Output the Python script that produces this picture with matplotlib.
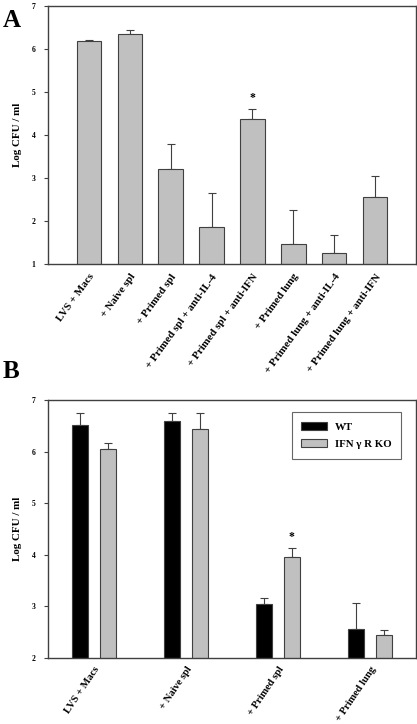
import numpy as np
import matplotlib
matplotlib.use("Agg")
import matplotlib.pyplot as plt

plt.rcParams["font.family"] = ["Liberation Serif", "DejaVu Serif"]
plt.rcParams["font.weight"] = "bold"

# panel A
cats_a = ["LVS + Macs", "+ Naive spl", "+ Primed spl", "+ Primed spl + anti-IL-4",
          "+ Primed spl + anti-IFN", "+ Primed lung", "+ Primed lung + anti-IL-4",
          "+ Primed lung + anti-IFN"]
vals_a = [6.19, 6.36, 3.21, 1.86, 4.38, 1.46, 1.25, 2.56]
errs_a = [0.03, 0.08, 0.59, 0.79, 0.22, 0.79, 0.42, 0.50]

# panel B
cats_b = ["LVS + Macs", "+ Naive spl", "+ Primed spl", "+ Primed lung"]
wt_b = [6.52, 6.59, 3.05, 2.56]
wt_err = [0.23, 0.16, 0.12, 0.50]
ko_b = [6.06, 6.44, 3.96, 2.44]
ko_err = [0.12, 0.31, 0.17, 0.10]

GRAY = "#c0c0c0"
EDGE = "#404040"

fig = plt.figure(figsize=(4.17, 7.24), dpi=100)

def style(ax, ylim, yticks):
    ax.set_ylim(*ylim)
    ax.set_yticks(yticks)
    ax.set_yticklabels([str(t) for t in yticks], fontsize=5.5, fontweight="bold")
    for s in ax.spines.values():
        s.set_color(EDGE); s.set_linewidth(1.0)
    ax.tick_params(axis="y", direction="out", length=3, width=0.8, color=EDGE, pad=6)
    ax.tick_params(axis="x", length=0, pad=6)
    ax.set_ylabel("Log CFU / ml", fontsize=7.9, fontweight="bold", labelpad=7)

# ---- A
axA = fig.add_axes([0.1151, 0.6354, 0.8825, 0.3557])
xa = np.arange(len(cats_a))
axA.bar(xa, vals_a, width=0.6, bottom=0, color=GRAY, edgecolor=EDGE, linewidth=0.8, zorder=2)
axA.errorbar(xa, vals_a, yerr=[np.zeros(len(errs_a)), errs_a], fmt="none",
             ecolor=EDGE, elinewidth=0.8, capsize=2.9, capthick=0.8, zorder=1)
axA.set_xlim(-1, 8)
style(axA, (1, 7), [1, 2, 3, 4, 5, 6, 7])
axA.set_xticks(xa)
axA.set_xticklabels(cats_a, rotation=54, ha="right", rotation_mode="anchor",
                    fontsize=7.8, fontweight="bold")
axA.text(4, vals_a[4] + errs_a[4] + 0.12, "*", ha="center", va="bottom", fontsize=8.5, fontweight="bold")
fig.text(0.006, 0.987, "A", fontsize=18, fontweight="bold", va="top")

# ---- B
axB = fig.add_axes([0.1151, 0.0912, 0.8825, 0.3559])
xb = np.arange(len(cats_b))
off, w = 0.149, 0.177
axB.bar(xb - off, wt_b, width=w, color="black", edgecolor=EDGE, linewidth=0.8, label="WT", zorder=2)
axB.bar(xb + off, ko_b, width=w, color=GRAY, edgecolor=EDGE, linewidth=0.8, label="IFN \u03b3 R KO", zorder=2)
axB.errorbar(xb - off, wt_b, yerr=[np.zeros(4), wt_err], fmt="none",
             ecolor=EDGE, elinewidth=0.8, capsize=2.9, capthick=0.8, zorder=1)
axB.errorbar(xb + off, ko_b, yerr=[np.zeros(4), ko_err], fmt="none",
             ecolor=EDGE, elinewidth=0.8, capsize=2.9, capthick=0.8, zorder=1)
axB.set_xlim(-0.5, 3.5)
style(axB, (2, 7), [2, 3, 4, 5, 6, 7])
axB.set_xticks(xb)
axB.set_xticklabels(cats_b, rotation=56, ha="right", rotation_mode="anchor",
                    fontsize=7.6, fontweight="bold")
axB.tick_params(axis="x", pad=5)
axB.text(2 + off, ko_b[2] + ko_err[2] + 0.1, "*", ha="center", va="bottom", fontsize=8.5, fontweight="bold")
leg = axB.legend(loc="upper right", bbox_to_anchor=(0.96, 0.953), fontsize=7.8, fancybox=False,
                 frameon=True, edgecolor=EDGE, handlelength=2.4, handleheight=0.7,
                 borderpad=0.9, labelspacing=0.7, handletextpad=0.7, borderaxespad=0)
leg.get_frame().set_linewidth(0.8)
fig.text(0.006, 0.503, "B", fontsize=18, fontweight="bold", va="top")

fig.savefig("out.png", dpi=100)
